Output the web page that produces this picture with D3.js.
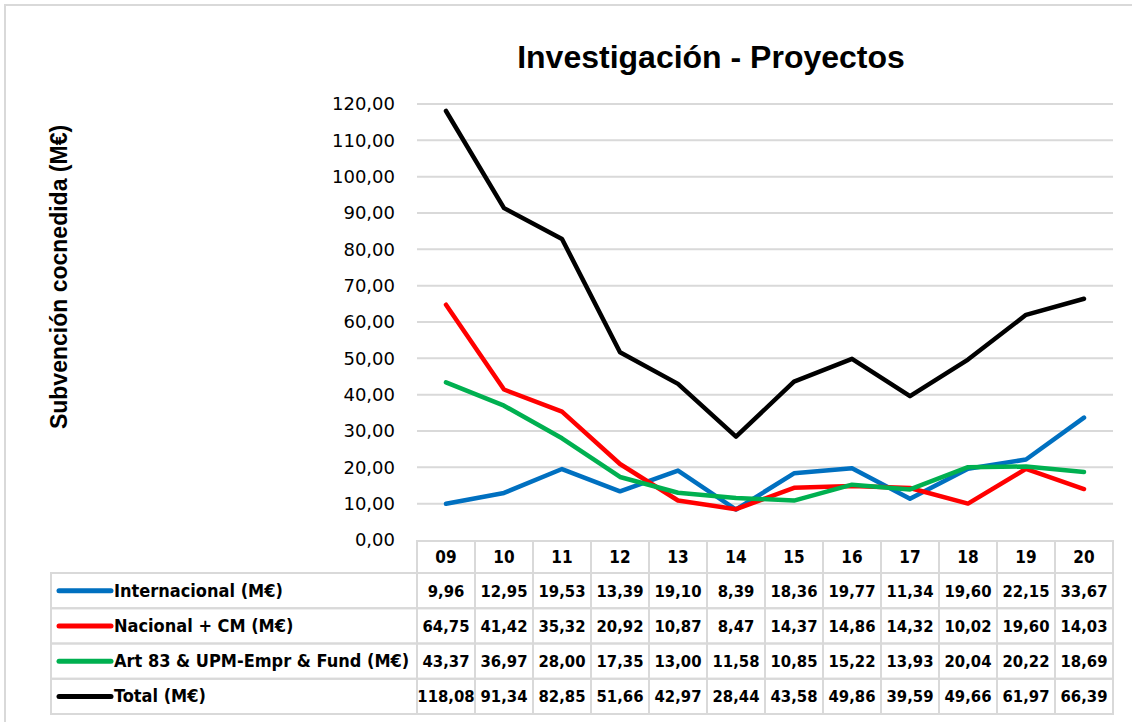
<!DOCTYPE html>
<html>
<head>
<meta charset="utf-8">
<script src="https://cdn.jsdelivr.net/npm/d3@7"></script>
<style>
  body { margin: 0; background: #fff; }
  svg { display: block; }
</style>
</head>
<body>
<svg id="chart" width="1132" height="722"></svg>
<script>
var years = ['09', '10', '11', '12', '13', '14', '15', '16', '17', '18', '19', '20'];
var internacional = [9.96, 12.95, 19.53, 13.39, 19.10, 8.39, 18.36, 19.77, 11.34, 19.60, 22.15, 33.67];
var nacional = [64.75, 41.42, 35.32, 20.92, 10.87, 8.47, 14.37, 14.86, 14.32, 10.02, 19.60, 14.03];
var art83 = [43.37, 36.97, 28.00, 17.35, 13.00, 11.58, 10.85, 15.22, 13.93, 20.04, 20.22, 18.69];
var total = [118.08, 91.34, 82.85, 51.66, 42.97, 28.44, 43.58, 49.86, 39.59, 49.66, 61.97, 66.39];
var yTicks = [0, 10, 20, 30, 40, 50, 60, 70, 80, 90, 100, 110, 120];

var series = [
    { name: 'Internacional (M€)', values: internacional, color: '#0070C0' },
    { name: 'Nacional + CM (M€)', values: nacional, color: '#FF0000' },
    { name: 'Art 83 & UPM-Empr & Fund (M€)', values: art83, color: '#00B050' },
    { name: 'Total (M€)', values: total, color: '#000000' }
];

var locale = d3.formatLocale({ decimal: ',', thousands: '.', grouping: [3], currency: ['', '€'] });
var fmt = locale.format('.2f');

var svg = d3.select('#chart');
var gridColor = '#d9d9d9';

svg.append('rect')
    .attr('x', 0).attr('y', 0).attr('width', 1132).attr('height', 722)
    .attr('fill', '#fff');

// chart border
svg.append('rect')
    .attr('x', 5).attr('y', 5).attr('width', 1140).attr('height', 740)
    .attr('fill', 'none').attr('stroke', gridColor).attr('stroke-width', 2);

var plotLeft = 417, plotRight = 1113, plotTop = 104, plotBottom = 540;

var x = d3.scaleBand().domain(years).range([plotLeft, plotRight]).padding(0);
var y = d3.scaleLinear().domain([0, 120]).range([plotBottom, plotTop]);

// gridlines
svg.append('g').selectAll('line')
    .data(yTicks.filter(function (d) { return d > 0; }))
    .enter().append('line')
    .attr('x1', plotLeft).attr('x2', plotRight)
    .attr('y1', function (d) { return y(d); })
    .attr('y2', function (d) { return y(d); })
    .attr('stroke', gridColor).attr('stroke-width', 2);

// y axis labels
var yAxis = svg.append('g')
    .attr('transform', 'translate(' + plotLeft + ',0)')
    .call(d3.axisLeft(y).tickValues(yTicks).tickFormat(fmt).tickSize(0).tickPadding(22));
yAxis.select('.domain').remove();
yAxis.selectAll('text')
    .attr('fill', '#000')
    .style('font-family', 'DejaVu Sans')
    .style('font-size', '18px');

// lines
var line = d3.line()
    .x(function (d, i) { return x(years[i]) + x.bandwidth() / 2; })
    .y(function (d) { return y(d); });

svg.append('g').selectAll('path')
    .data(series)
    .enter().append('path')
    .attr('d', function (s) { return line(s.values); })
    .attr('fill', 'none')
    .attr('stroke', function (s) { return s.color; })
    .attr('stroke-width', 4.5)
    .attr('stroke-linejoin', 'round')
    .attr('stroke-linecap', 'round');

// title
svg.append('text')
    .attr('x', 711).attr('y', 68)
    .attr('text-anchor', 'middle')
    .style('font-family', 'Liberation Sans Narrow, Liberation Sans')
    .style('font-weight', 'bold')
    .style('font-size', '32px')
    .text('Investigación - Proyectos');

// y axis title
svg.append('text')
    .attr('transform', 'translate(67,277) rotate(-90)')
    .attr('text-anchor', 'middle')
    .style('font-family', 'Liberation Sans Narrow, Liberation Sans')
    .style('font-weight', 'bold')
    .style('font-size', '23px')
    .text('Subvención cocnedida (M€)');

// data table
var tableLeft = 51, headTop = 541, headH = 32, rowH = 35.25;
var tableTop = headTop + headH;
var tbl = svg.append('g');
var tableFont = 'DejaVu Sans Condensed, DejaVu Sans';

// header cells
tbl.selectAll('rect.head')
    .data(years)
    .enter().append('rect')
    .attr('class', 'head')
    .attr('x', function (d) { return x(d); })
    .attr('y', headTop)
    .attr('width', x.bandwidth()).attr('height', headH)
    .attr('fill', 'none').attr('stroke', gridColor).attr('stroke-width', 2);

tbl.selectAll('text.head')
    .data(years)
    .enter().append('text')
    .attr('class', 'head')
    .attr('x', function (d) { return x(d) + x.bandwidth() / 2; })
    .attr('y', headTop + headH / 2 + 6)
    .attr('text-anchor', 'middle')
    .style('font-family', tableFont)
    .style('font-weight', 'bold')
    .style('font-size', '17px')
    .text(function (d) { return d; });

// series rows
var rows = tbl.selectAll('g.row')
    .data(series)
    .enter().append('g')
    .attr('class', 'row')
    .attr('transform', function (s, i) { return 'translate(0,' + (tableTop + i * rowH) + ')'; });

rows.append('rect')
    .attr('x', tableLeft).attr('y', 0)
    .attr('width', plotLeft - tableLeft).attr('height', rowH)
    .attr('fill', 'none').attr('stroke', gridColor).attr('stroke-width', 2);

rows.append('line')
    .attr('x1', 59).attr('x2', 111)
    .attr('y1', rowH / 2).attr('y2', rowH / 2)
    .attr('stroke', function (s) { return s.color; })
    .attr('stroke-width', 5)
    .attr('stroke-linecap', 'round');

rows.append('text')
    .attr('x', 114).attr('y', rowH / 2 + 6)
    .style('font-family', tableFont)
    .style('font-weight', 'bold')
    .style('font-size', '18px')
    .text(function (s) { return s.name; });

rows.selectAll('rect.cell')
    .data(function (s) { return s.values; })
    .enter().append('rect')
    .attr('class', 'cell')
    .attr('x', function (d, i) { return x(years[i]); })
    .attr('y', 0)
    .attr('width', x.bandwidth()).attr('height', rowH)
    .attr('fill', 'none').attr('stroke', gridColor).attr('stroke-width', 2);

rows.selectAll('text.cell')
    .data(function (s) { return s.values; })
    .enter().append('text')
    .attr('class', 'cell')
    .attr('x', function (d, i) { return x(years[i]) + x.bandwidth() / 2; })
    .attr('y', rowH / 2 + 6)
    .attr('text-anchor', 'middle')
    .style('font-family', tableFont)
    .style('font-weight', 'bold')
    .style('font-size', '16.5px')
    .text(function (d) { return fmt(d); });
</script>
</body>
</html>
